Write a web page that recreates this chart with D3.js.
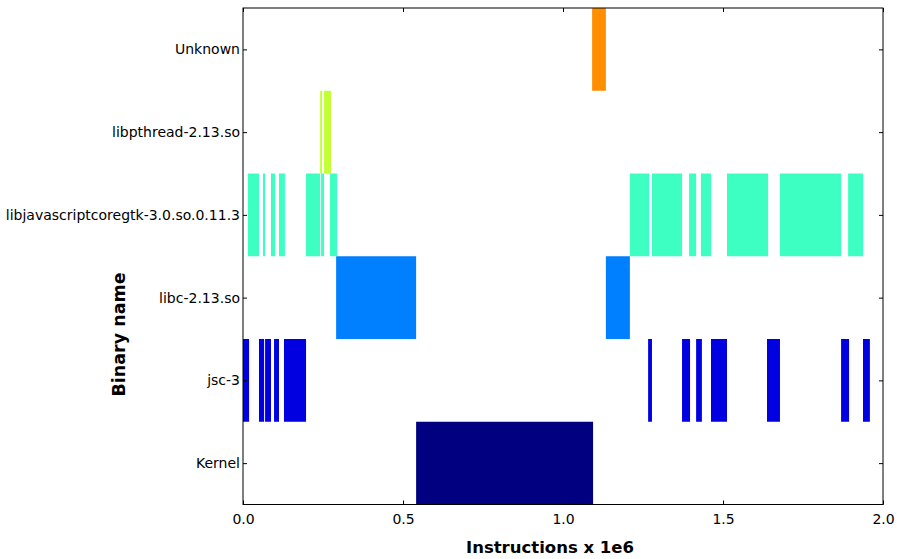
<!DOCTYPE html>
<html lang="en">
<head>
  <meta charset="UTF-8">
  <title>Binary name over instructions</title>
  <style>
    body, html {
      margin: 0;
      padding: 0;
      background: #fff;
      font-family: "DejaVu Sans", sans-serif;
    }
    #svg { display: block; }
  </style>
</head>
<body>
  <svg id="svg" width="897" height="559"></svg>

  <script src="https://cdn.jsdelivr.net/npm/d3@7"></script>
  <script>
    // categories, bottom to top
    const binaries = ['Kernel', 'jsc-3', 'libc-2.13.so', 'libjavascriptcoregtk-3.0.so.0.11.3', 'libpthread-2.13.so', 'Unknown'];
    const colors = ['#000080', '#0000e0', '#0080ff', '#3dffc2', '#c2ff36', '#ff8f00'];
    const xTicks = [0, 0.5, 1.0, 1.5, 2.0];

    // spans in instructions x 1e6 : [start, end]
    const kernelSpans = [[0.541, 1.094]];
    const jscSpans = [
      [0.0, 0.019], [0.05, 0.066], [0.069, 0.0875], [0.097, 0.1125], [0.128, 0.197],
      [1.266, 1.278], [1.372, 1.397], [1.416, 1.434], [1.4625, 1.5125], [1.6375, 1.678],
      [1.869, 1.894], [1.9375, 1.959]
    ];
    const libcSpans = [[0.291, 0.541], [1.134, 1.209]];
    const libjsSpans = [
      [0.0156, 0.05], [0.0625, 0.069], [0.0875, 0.1], [0.1125, 0.131], [0.197, 0.241],
      [0.244, 0.253], [0.272, 0.294],
      [1.209, 1.269], [1.278, 1.372], [1.394, 1.416], [1.431, 1.4625], [1.5125, 1.641],
      [1.678, 1.869], [1.891, 1.9375]
    ];
    const pthreadSpans = [[0.241, 0.247], [0.253, 0.275]];
    const unknownSpans = [[1.091, 1.134]];

    const spansByRow = [kernelSpans, jscSpans, libcSpans, libjsSpans, pthreadSpans, unknownSpans];

    const margin = { top: 8, right: 14, bottom: 54, left: 243 };
    const width = 897 - margin.left - margin.right;
    const height = 559 - margin.top - margin.bottom - 0.5;

    const svg = d3.select('#svg')
      .append('g')
      .attr('transform', `translate(${margin.left},${margin.top})`);

    const xScale = d3.scaleLinear().domain([0, 2]).range([0, width]);
    const yScale = d3.scaleLinear().domain([-0.5, 5.5]).range([height, 0]);

    // bars
    const rows = [];
    spansByRow.forEach((spans, i) => {
      spans.forEach(s => rows.push({ row: i, start: s[0], end: s[1] }));
    });

    svg.append('g')
      .selectAll('rect')
      .data(rows)
      .enter()
      .append('rect')
      .attr('x', d => xScale(d.start))
      .attr('width', d => xScale(d.end) - xScale(d.start))
      .attr('y', d => yScale(d.row + 0.5))
      .attr('height', d => yScale(d.row - 0.5) - yScale(d.row + 0.5))
      .attr('fill', d => colors[d.row]);

    // frame
    svg.append('rect')
      .attr('width', width)
      .attr('height', height)
      .attr('fill', 'none')
      .attr('stroke', '#000')
      .attr('stroke-width', 1);

    // x axis (ticks inward, top and bottom)
    const xAxis = svg.append('g')
      .attr('transform', `translate(0,${height})`)
      .call(d3.axisBottom(xScale).tickValues(xTicks).tickFormat(d3.format('.1f')).tickSizeInner(-4).tickSizeOuter(0).tickPadding(10));
    xAxis.select('.domain').remove();
    xAxis.selectAll('text').style('font-size', '14px').style('font-family', 'DejaVu Sans').attr('fill', '#000');

    const xTop = svg.append('g')
      .call(d3.axisTop(xScale).tickValues(xTicks).tickFormat('').tickSizeInner(-4).tickSizeOuter(0));
    xTop.select('.domain').remove();

    // y axis
    const yAxis = svg.append('g')
      .call(d3.axisLeft(yScale).tickValues(d3.range(binaries.length)).tickFormat(i => binaries[i]).tickSizeInner(-4).tickSizeOuter(0).tickPadding(3));
    yAxis.select('.domain').remove();
    yAxis.selectAll('text').style('font-size', '14px').style('font-family', 'DejaVu Sans').attr('fill', '#000');

    const yRight = svg.append('g')
      .attr('transform', `translate(${width},0)`)
      .call(d3.axisRight(yScale).tickValues(d3.range(binaries.length)).tickFormat('').tickSizeInner(-4).tickSizeOuter(0));
    yRight.select('.domain').remove();

    // X axis label
    svg.append('text')
      .attr('x', 550 - margin.left)
      .attr('y', height + 48)
      .style('text-anchor', 'middle')
      .style('font-size', '16.5px')
      .style('font-weight', 'bold')
      .style('font-family', 'DejaVu Sans')
      .text('Instructions x 1e6');

    // Y axis label
    svg.append('text')
      .attr('transform', 'rotate(-90)')
      .attr('x', -(334.5 - margin.top))
      .attr('y', -118)
      .style('text-anchor', 'middle')
      .style('font-size', '17.5px')
      .style('font-weight', 'bold')
      .style('font-family', 'DejaVu Sans')
      .text('Binary name');
  </script>
</body>
</html>
